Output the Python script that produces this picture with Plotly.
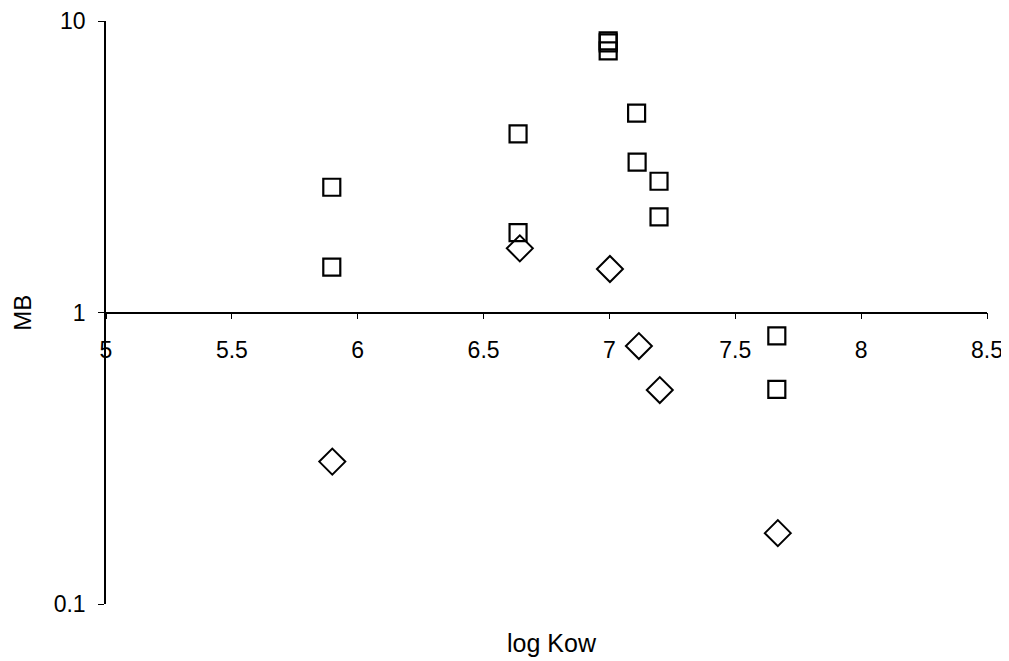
import plotly.graph_objects as go

# Data
square_x = [5.897, 5.897, 6.637, 6.637, 6.995, 6.995, 6.995, 7.108, 7.110, 7.197, 7.197, 7.665, 7.665]
square_y = [2.69, 1.43, 4.10, 1.88, 8.55, 8.41, 7.90, 4.83, 3.28, 2.82, 2.13, 0.832, 0.545]
diamond_x = [5.899, 6.644, 7.002, 7.117, 7.200, 7.669]
diamond_y = [0.308, 1.66, 1.41, 0.767, 0.542, 0.175]

x_ticks = [5, 5.5, 6, 6.5, 7, 7.5, 8, 8.5]
x_tick_text = ["5", "5.5", "6", "6.5", "7", "7.5", "8", "8.5"]
y_ticks = [0.1, 1, 10]
y_tick_text = ["0.1", "1", "10"]

FONT = "Liberation Sans, Arial, sans-serif"

fig = go.Figure()
fig.add_trace(go.Scatter(
    x=square_x, y=square_y, mode="markers",
    marker=dict(symbol="square-open", size=17, color="black", line=dict(width=2.2, color="black")),
    showlegend=False, cliponaxis=False,
))
fig.add_trace(go.Scatter(
    x=diamond_x, y=diamond_y, mode="markers",
    marker=dict(symbol="diamond-open", size=20, color="black", line=dict(width=2, color="black")),
    showlegend=False, cliponaxis=False,
))

# page body has an 8px margin: figure is sized to fill the rest of the window
fig.update_layout(
    width=1001, height=653,
    margin=dict(l=98, r=22, t=13, b=57, autoexpand=False),
    paper_bgcolor="white", plot_bgcolor="white",
    font=dict(family=FONT, color="black"),
    xaxis=dict(
        range=[5, 8.5], tickvals=x_ticks, ticktext=x_tick_text,
        anchor="free", position=0.5, automargin=False,
        showline=True, linecolor="black", linewidth=1.5,
        ticks="outside", ticklen=6, tickcolor="black", tickwidth=1.2,
        ticklabelstandoff=11,
        showgrid=False, zeroline=False,
        tickfont=dict(size=23, family=FONT, color="black"),
    ),
    yaxis=dict(
        type="log", range=[-1, 1], tickvals=y_ticks, ticktext=y_tick_text,
        automargin=False,
        showline=True, linecolor="black", linewidth=1.5,
        ticks="outside", ticklen=6, tickcolor="black", tickwidth=1.2,
        ticklabelstandoff=8,
        showgrid=False, zeroline=False,
        tickfont=dict(size=23, family=FONT, color="black"),
    ),
    annotations=[
        dict(text="log Kow", xref="paper", yref="paper", x=0.506, y=-0.067,
             xanchor="center", yanchor="middle", showarrow=False,
             font=dict(size=25, family=FONT, color="black")),
        dict(text="MB", xref="paper", yref="paper", x=-0.095, y=0.5,
             xanchor="center", yanchor="middle", showarrow=False, textangle=-90,
             font=dict(size=24, family=FONT, color="black")),
    ],
)

fig.write_html("out.html")
